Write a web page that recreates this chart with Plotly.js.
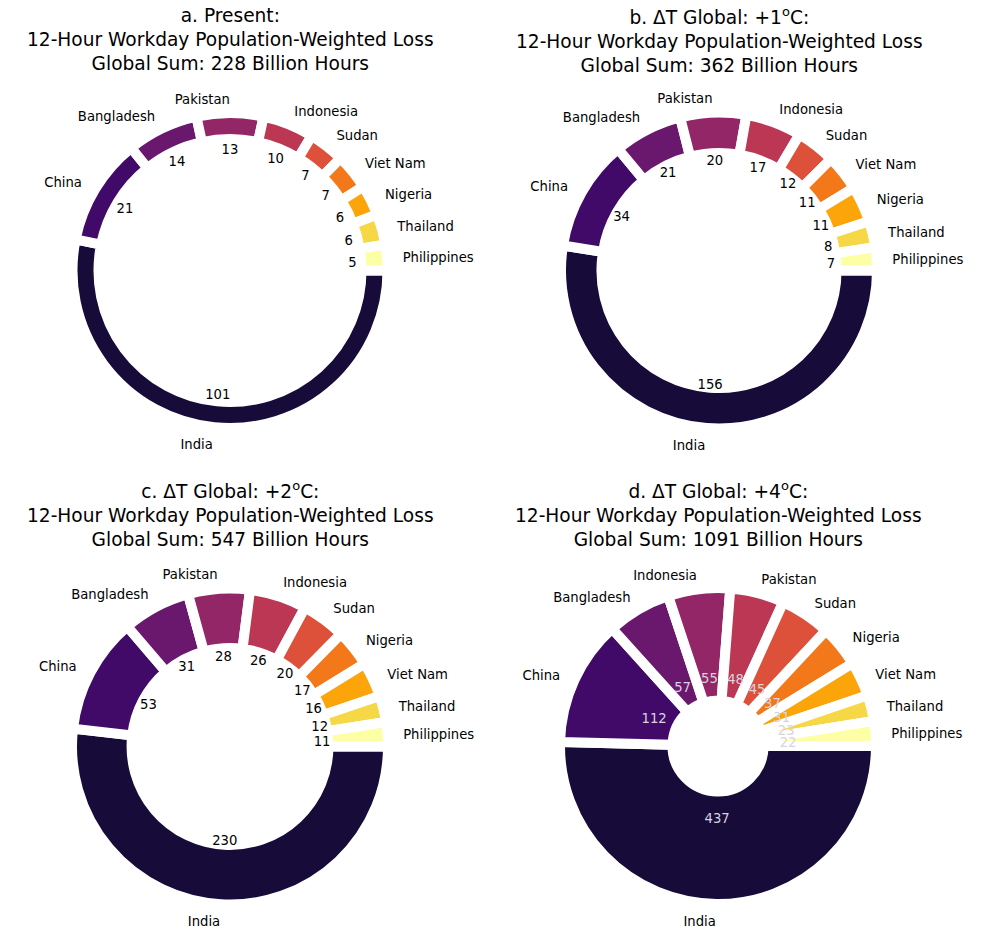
<!DOCTYPE html>
<html>
<head>
<meta charset="utf-8">
<script src="https://cdn.plot.ly/plotly-3.0.1.min.js"></script>
<style>html,body{margin:0;padding:0;background:#fff}</style>
</head>
<body>
<div id="chart" style="width:983px;height:931px"></div>
<script>
// ---- data ----
const countriesA = ['India','China','Bangladesh','Pakistan','Indonesia','Sudan','Viet Nam','Nigeria','Thailand','Philippines'];
const valuesA    = [101, 21, 14, 13, 10, 7, 7, 6, 6, 5];
const countriesB = ['India','China','Bangladesh','Pakistan','Indonesia','Sudan','Viet Nam','Nigeria','Thailand','Philippines'];
const valuesB    = [156, 34, 21, 20, 17, 12, 11, 11, 8, 7];
const countriesC = ['India','China','Bangladesh','Pakistan','Indonesia','Sudan','Nigeria','Viet Nam','Thailand','Philippines'];
const valuesC    = [230, 53, 31, 28, 26, 20, 17, 16, 12, 11];
const countriesD = ['India','China','Bangladesh','Indonesia','Pakistan','Sudan','Nigeria','Viet Nam','Thailand','Philippines'];
const valuesD    = [437, 112, 57, 55, 48, 45, 37, 31, 23, 22];
const globalSums = [228, 362, 547, 1091];
const scenarioLabels = ['a. Present:', 'b. \u0394T Global: +1<sup>o</sup>C:', 'c. \u0394T Global: +2<sup>o</sup>C:', 'd. \u0394T Global: +4<sup>o</sup>C:'];

// ---- styles ----
const rankColors = ['#160b39','#420a68','#6a176e','#932667','#bc3754','#dd513a','#f37819','#fca50a','#f6d746','#fcffa4'];
const FONT = 'DejaVu Sans, Verdana, sans-serif';
const W = 983, H = 931, RMAX = 1.15, LABEL_DIST = 1.1, TEXT_SHIFT = 3;

const panels = [
  {names: countriesA, vals: valuesA, cx: 230, cy: 270.5, R: 157.5, hole: 0.835, pct: 0.78,  lw: 10, pctColor: '#000000', titleY: 39.5},
  {names: countriesB, vals: valuesB, cx: 719, cy: 270.5, R: 158,   hole: 0.744, pct: 0.71,  lw: 10, pctColor: '#000000', titleY: 39.5},
  {names: countriesC, vals: valuesC, cx: 230, cy: 746.5, R: 158,   hole: 0.623, pct: 0.585, lw: 10, pctColor: '#000000', titleY: 513.5},
  {names: countriesD, vals: valuesD, cx: 718, cy: 746,   R: 158,   hole: 0.288, pct: 0.445, lw: 10, pctColor: '#d8d3de', titleY: 513.5}
];

const data = [];
const layout = {
  width: W, height: H, autosize: false,
  margin: {l: 0, r: 0, t: 0, b: 0},
  paper_bgcolor: 'white', plot_bgcolor: 'white',
  showlegend: false,
  annotations: []
};
const hiddenAxis = {visible: false, showgrid: false, showline: false, showticklabels: false, ticks: ''};
function polarLayout(cx, cy, half) {
  return {
    domain: {x: [(cx - half) / W, (cx + half) / W], y: [(H - cy - half) / H, (H - cy + half) / H]},
    bgcolor: 'rgba(0,0,0,0)',
    radialaxis: Object.assign({range: [0, RMAX]}, hiddenAxis),
    angularaxis: Object.assign({rotation: 0, direction: 'clockwise'}, hiddenAxis)
  };
}

panels.forEach((p, i) => {
  const key = i === 0 ? 'polar' : 'polar' + (i + 1);
  const textKey = 'polar' + (i + 5);
  const total = p.vals.reduce((a, b) => a + b, 0);
  let cum = 0;
  const mids = [], widths = [];
  p.vals.forEach(v => {
    widths.push(v / total * 360);
    mids.push((cum + v / 2) / total * 360);
    cum += v;
  });
  const half = RMAX * p.R;
  layout[key] = polarLayout(p.cx, p.cy, half);
  layout[textKey] = polarLayout(p.cx, p.cy + TEXT_SHIFT, half);
  data.push({
    type: 'barpolar', subplot: key,
    theta: mids, width: widths,
    base: p.vals.map(() => p.hole), r: p.vals.map(() => 1 - p.hole),
    marker: {color: rankColors, line: {color: 'white', width: p.lw}},
    hoverinfo: 'skip'
  });
  data.push({
    type: 'scatterpolar', subplot: textKey, mode: 'text',
    r: p.vals.map(() => LABEL_DIST), theta: mids, text: p.names,
    textposition: mids.map(m => Math.cos(m * Math.PI / 180) > 0 ? 'middle right' : 'middle left'),
    textfont: {family: FONT, size: 13.2, color: '#000000'},
    cliponaxis: false, hoverinfo: 'skip'
  });
  data.push({
    type: 'scatterpolar', subplot: textKey, mode: 'text',
    r: p.vals.map(() => p.pct), theta: mids, text: p.vals.map(v => String(v)),
    textposition: 'middle center',
    textfont: {family: FONT, size: 13.2, color: p.pctColor},
    cliponaxis: false, hoverinfo: 'skip'
  });
  layout.annotations.push({
    xref: 'paper', yref: 'paper', x: p.cx / W, y: 1 - p.titleY / H,
    xanchor: 'center', yanchor: 'middle', showarrow: false,
    text: scenarioLabels[i] + '<br>12-Hour Workday Population-Weighted Loss<br>Global Sum: ' + globalSums[i] + ' Billion Hours',
    font: {family: FONT, size: 18.6, color: '#000000'}
  });
});

Plotly.newPlot('chart', data, layout, {staticPlot: true, displayModeBar: false});
</script>
</body>
</html>
